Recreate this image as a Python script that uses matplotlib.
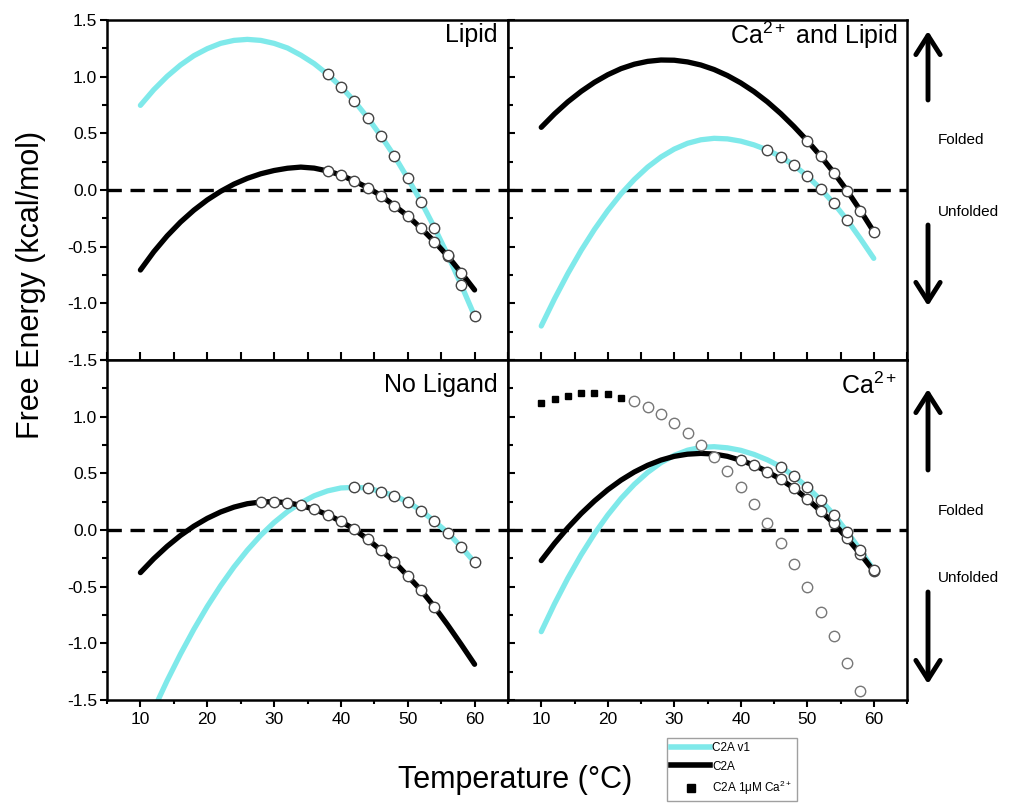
import numpy as np
import matplotlib
matplotlib.use("Agg")
import matplotlib.pyplot as plt
from matplotlib.lines import Line2D
from matplotlib.patches import FancyArrowPatch
from matplotlib.ticker import MultipleLocator

plt.rcParams['font.family'] = ['Liberation Sans', 'DejaVu Sans']
plt.rcParams['mathtext.fontset'] = 'custom'
plt.rcParams['mathtext.rm'] = 'Liberation Sans'
plt.rcParams['mathtext.it'] = 'Liberation Sans:italic'
plt.rcParams['mathtext.bf'] = 'Liberation Sans:bold'

# ---------------- data ----------------
temps = list(range(10, 61, 2))

# Lipid panel
lipid_v1 = [0.747, 0.885, 1.003, 1.103, 1.185, 1.247, 1.294, 1.320, 1.329, 1.320, 1.294, 1.253,
            1.190, 1.115, 1.021, 0.912, 0.785, 0.638, 0.476, 0.300, 0.103, -0.103, -0.332, -0.576,
            -0.838, -1.112]
lipid_c2a = [-0.706, -0.545, -0.405, -0.283, -0.178, -0.088, -0.012, 0.052, 0.103, 0.143, 0.172, 0.192,
             0.202, 0.193, 0.168, 0.132, 0.079, 0.021, -0.050, -0.138, -0.229, -0.338, -0.456, -0.585,
             -0.730, -0.882]
lipid_v1_pts_T = [38, 40, 42, 44, 46, 48, 50, 52, 54, 56, 58, 60]
lipid_v1_pts = [1.021, 0.912, 0.785, 0.638, 0.476, 0.300, 0.103, -0.103, -0.332, -0.576, -0.838, -1.112]
lipid_c2a_pts_T = [38, 40, 42, 44, 46, 48, 50, 52, 54, 56, 58]
lipid_c2a_pts = [0.168, 0.132, 0.079, 0.021, -0.050, -0.138, -0.229, -0.338, -0.456, -0.585, -0.735]

# Ca2+ and Lipid panel
calip_v1 = [-1.200, -0.960, -0.737, -0.533, -0.348, -0.182, -0.034, 0.093, 0.202, 0.291, 0.361, 0.412,
            0.443, 0.456, 0.451, 0.431, 0.398, 0.353, 0.295, 0.218, 0.124, 0.010, -0.118, -0.265,
            -0.430, -0.603]
calip_c2a = [0.553, 0.672, 0.778, 0.870, 0.950, 1.017, 1.071, 1.110, 1.135, 1.147, 1.145, 1.130,
             1.103, 1.063, 1.010, 0.945, 0.868, 0.778, 0.675, 0.560, 0.435, 0.300, 0.153, -0.006,
             -0.182, -0.368]
calip_v1_pts_T = [44, 46, 48, 50, 52, 54, 56]
calip_v1_pts = [0.353, 0.295, 0.218, 0.124, 0.010, -0.118, -0.265]
calip_c2a_pts_T = [50, 52, 54, 56, 58, 60]
calip_c2a_pts = [0.435, 0.300, 0.153, -0.006, -0.182, -0.368]

# No Ligand panel
nolig_v1 = [np.nan, -1.582, -1.329, -1.094, -0.876, -0.675, -0.492, -0.326, -0.178, -0.047, 0.066, 0.162,
            0.240, 0.302, 0.345, 0.371, 0.376, 0.371, 0.338, 0.303, 0.247, 0.171, 0.076, -0.024,
            -0.150, -0.285]
nolig_c2a = [-0.376, -0.253, -0.144, -0.048, 0.034, 0.103, 0.159, 0.202, 0.232, 0.247, 0.250, 0.241,
             0.218, 0.182, 0.135, 0.076, 0.006, -0.082, -0.179, -0.282, -0.406, -0.532, -0.679, -0.840,
             -1.010, -1.185]
nolig_v1_pts_T = [42, 44, 46, 48, 50, 52, 54, 56, 58, 60]
nolig_v1_pts = [0.376, 0.371, 0.338, 0.303, 0.247, 0.171, 0.076, -0.024, -0.150, -0.285]
nolig_c2a_pts_T = [28, 30, 32, 34, 36, 38, 40, 42, 44, 46, 48, 50, 52, 54]
nolig_c2a_pts = [0.247, 0.250, 0.241, 0.218, 0.182, 0.135, 0.076, 0.006, -0.082, -0.179, -0.282,
                 -0.406, -0.532, -0.679]

# Ca2+ panel
ca_v1 = [-0.897, -0.651, -0.425, -0.219, -0.033, 0.132, 0.278, 0.403, 0.508, 0.594, 0.659, 0.704,
         0.729, 0.735, 0.725, 0.703, 0.667, 0.619, 0.559, 0.476, 0.379, 0.265, 0.135, -0.015,
         -0.179, -0.353]
ca_c2a = [-0.270, -0.118, 0.020, 0.145, 0.256, 0.355, 0.440, 0.512, 0.571, 0.617, 0.650, 0.669,
          0.676, 0.670, 0.650, 0.615, 0.572, 0.515, 0.447, 0.368, 0.274, 0.168, 0.059, -0.074,
          -0.212, -0.362]
ca_v1_pts_T = [46, 48, 50, 52, 54, 56, 58, 60]
ca_v1_pts = [0.559, 0.476, 0.379, 0.265, 0.135, -0.015, -0.179, -0.353]
ca_c2a_pts_T = [40, 42, 44, 46, 48, 50, 52, 54, 56, 58, 60]
ca_c2a_pts = [0.615, 0.572, 0.515, 0.447, 0.368, 0.274, 0.168, 0.059, -0.074, -0.212, -0.362]
# C2A 1 uM Ca2+
ca1um_sq_T = [10, 12, 14, 16, 18, 20, 22]
ca1um_sq = [1.118, 1.153, 1.182, 1.206, 1.206, 1.200, 1.168]
ca1um_pts_T = [24, 26, 28, 30, 32, 34, 36, 38, 40, 42, 44, 46, 48, 50, 52, 54, 56, 58]
ca1um_pts = [1.138, 1.088, 1.021, 0.947, 0.859, 0.753, 0.641, 0.521, 0.382, 0.229, 0.065, -0.112,
             -0.300, -0.506, -0.721, -0.935, -1.176, -1.421]

series_labels = ['C2A v1', 'C2A', 'C2A 1$\\mathrm{\\mu}$M Ca$^{2+}$']
panel_titles = ['Lipid', 'Ca$^{2+}$ and Lipid', 'No Ligand', 'Ca$^{2+}$']
x_ticks = [10, 20, 30, 40, 50, 60]
y_ticks = [1.5, 1.0, 0.5, 0.0, -0.5, -1.0, -1.5]

CYAN = '#7fe9ea'
W, H = 1015, 811
fig = plt.figure(figsize=(W / 100, H / 100), dpi=100)

def fx(px):
    return px / W

def fy(py):
    return 1 - py / H

axL = [fx(107), fx(508) - fx(107)]
axR = [fx(508), fx(907) - fx(508)]
topY = [fy(360), fy(20) - fy(360)]
botY = [fy(700), fy(360) - fy(700)]

ax_tl = fig.add_axes([axL[0], topY[0], axL[1], topY[1]])
ax_tr = fig.add_axes([axR[0], topY[0], axR[1], topY[1]])
ax_bl = fig.add_axes([axL[0], botY[0], axL[1], botY[1]])
ax_br = fig.add_axes([axR[0], botY[0], axR[1], botY[1]])

panels = [
    (ax_tl, lipid_v1, lipid_c2a, lipid_v1_pts_T, lipid_v1_pts, lipid_c2a_pts_T, lipid_c2a_pts),
    (ax_tr, calip_v1, calip_c2a, calip_v1_pts_T, calip_v1_pts, calip_c2a_pts_T, calip_c2a_pts),
    (ax_bl, nolig_v1, nolig_c2a, nolig_v1_pts_T, nolig_v1_pts, nolig_c2a_pts_T, nolig_c2a_pts),
    (ax_br, ca_v1, ca_c2a, ca_v1_pts_T, ca_v1_pts, ca_c2a_pts_T, ca_c2a_pts),
]

circ = dict(ls='none', marker='o', ms=7.5, mfc='white', mec='#444444', mew=1.0, zorder=5)

for i, (ax, v1, c2a, pT1, p1, pT2, p2) in enumerate(panels):
    ax.set_xlim(5, 65)
    ax.set_ylim(-1.5, 1.5)
    ax.axhline(0, color='black', lw=2.4, ls=(0, (4.3, 2.6)), zorder=1)
    ax.plot(temps, v1, color=CYAN, lw=3.8, solid_capstyle='round', zorder=2)
    ax.plot(temps, c2a, color='black', lw=3.8, solid_capstyle='round', zorder=3)
    ax.plot(pT2, p2, **circ)
    ax.plot(pT1, p1, **circ)
    for s in ax.spines.values():
        s.set_linewidth(1.8)
    ax.xaxis.set_major_locator(MultipleLocator(10))
    ax.xaxis.set_minor_locator(MultipleLocator(5))
    ax.yaxis.set_major_locator(MultipleLocator(0.5))
    ax.yaxis.set_minor_locator(MultipleLocator(0.25))
    ax.set_xticks(x_ticks)
    ax.set_yticks(y_ticks)
    top = i < 2
    left = i % 2 == 0
    ax.tick_params(axis='x', which='both', top=False, direction='in' if top else 'out',
                   labelbottom=not top, labelsize=12.5, width=1.5, pad=3.5)
    ax.tick_params(axis='x', which='major', length=5 if not top else 6)
    ax.tick_params(axis='x', which='minor', length=3 if not top else 6)
    ax.tick_params(axis='y', which='both', right=False, direction='out' if left else 'in',
                   labelleft=left, labelsize=12.5, width=1.5, pad=2)
    ax.tick_params(axis='y', which='major', length=5)
    ax.tick_params(axis='y', which='minor', length=3.5)
    if left:
        ax.set_yticklabels([f'{v:.1f}' for v in y_ticks])
        if not top:
            ax.get_yticklabels()[0].set_visible(False)
    ax.text(0.975, 0.955 if top else 0.925, panel_titles[i], transform=ax.transAxes,
            ha='right', va='center', fontsize=18)

# C2A 1uM Ca2+ series in the Ca2+ panel
ax_br.plot(ca1um_sq_T, ca1um_sq, ls='none', marker='s', ms=5, color='black', zorder=5)
ax_br.plot(ca1um_pts_T, ca1um_pts, ls='none', marker='o', ms=7.5, mfc='white', mec='#777777',
           mew=1.0, zorder=5)

# axis labels
fig.text(fx(515), fy(780), 'Temperature (°C)', ha='center', va='center', fontsize=22)
fig.text(fx(31), fy(285), 'Free Energy (kcal/mol)', ha='center', va='center', rotation=90,
         fontsize=22)

# legend
handles = [Line2D([], [], color=CYAN, lw=4),
           Line2D([], [], color='black', lw=4),
           Line2D([], [], ls='none', marker='s', ms=6, color='black')]
leg = fig.legend(handles, series_labels, loc='upper left', bbox_to_anchor=(fx(667), fy(738)),
                 fontsize=8.5, frameon=True, fancybox=False, edgecolor='#888888',
                 handlelength=3.3, handletextpad=0.2, borderpad=0.35, labelspacing=0.55,
                 borderaxespad=0)
leg.get_frame().set_linewidth(1.0)

# folded / unfolded annotations
def arrow(y0, y1):
    fig.add_artist(FancyArrowPatch((fx(928), fy(y0)), (fx(928), fy(y1)),
                                   transform=fig.transFigure,
                                   arrowstyle='->,head_length=0.55,head_width=0.35',
                                   mutation_scale=25, lw=3.5, color='black',
                                   shrinkA=0, shrinkB=0))

arrow(100, 31)
arrow(225, 306)
arrow(470, 389)
arrow(592, 684)
for yy, txt in [(140, 'Folded'), (212, 'Unfolded'), (511, 'Folded'), (578, 'Unfolded')]:
    fig.text(fx(938), fy(yy), txt, ha='left', va='center', fontsize=11)

fig.savefig('out.png', dpi=100)
